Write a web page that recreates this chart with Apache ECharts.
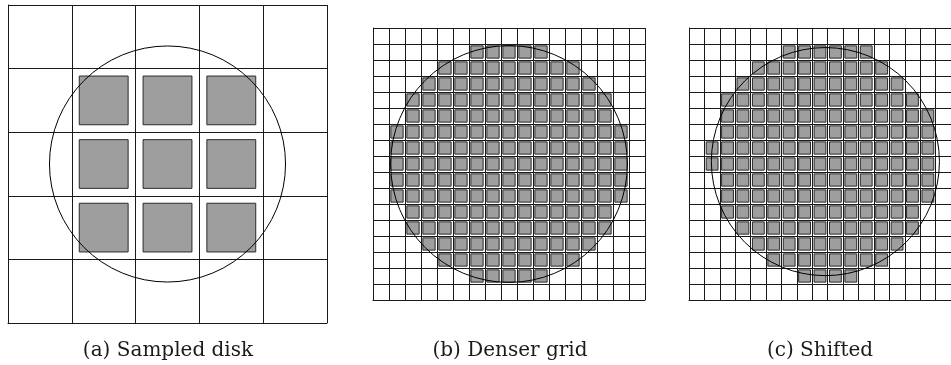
<!DOCTYPE html>
<html>
<head>
<meta charset="utf-8">
<script src="https://cdn.jsdelivr.net/npm/echarts@6/dist/echarts.min.js"></script>
<style>
  html, body { margin: 0; padding: 0; background: #fff; }
  #chart { width: 951px; height: 365px; }
</style>
</head>
<body>
<div id="chart"></div>
<script>
// Grid sizes (cells per side) for each panel
const gridCells = [5, 17, 17];

// Disk for each panel: [centerX, centerY, radius] in cell units
const diskA = [2.5, 2.5, 1.85];
const diskB = [8.5, 8.5, 7.4];
const diskC = [8.85, 8.35, 7.4];

// Filled (sampled) cells per row: [row, firstCol, lastCol]
const spansA = [
  [1, 1, 3], [2, 1, 3], [3, 1, 3]
];
const spansB = [
  [1, 6, 10], [2, 4, 12], [3, 3, 13], [4, 2, 14], [5, 2, 14],
  [6, 1, 15], [7, 1, 15], [8, 1, 15], [9, 1, 15], [10, 1, 15],
  [11, 2, 14], [12, 2, 14], [13, 3, 13], [14, 4, 12], [15, 6, 10]
];
const spansC = [
  [1, 6, 11], [2, 4, 12], [3, 3, 13], [4, 2, 14], [5, 2, 15],
  [6, 2, 15], [7, 1, 15], [8, 1, 15], [9, 2, 15], [10, 2, 15],
  [11, 2, 14], [12, 3, 14], [13, 4, 13], [14, 5, 12], [15, 7, 10]
];

// Panel captions
const captions = ['(a) Sampled disk', '(b) Denser grid', '(c) Shifted'];

const panels = [
  { grid: { left: 8, top: 5, width: 319, height: 318 }, n: gridCells[0], disk: diskA, spans: spansA, capX: 168 },
  { grid: { left: 373, top: 28, width: 272, height: 272 }, n: gridCells[1], disk: diskB, spans: spansB, capX: 510 },
  { grid: { left: 689, top: 28, width: 272, height: 272 }, n: gridCells[2], disk: diskC, spans: spansC, capX: 820 }
];

const LINE = '#1a1a1a';
const INSET = 0.117;

function cellsFromSpans(spans) {
  const out = [];
  spans.forEach(([r, c0, c1]) => {
    for (let c = c0; c <= c1; c++) out.push([c, r]);
  });
  return out;
}

const option = {
  animation: false,
  backgroundColor: '#fff',
  grid: panels.map(p => Object.assign({ containLabel: false }, p.grid)),
  xAxis: panels.map((p, i) => ({
    type: 'value', gridIndex: i, min: 0, max: p.n, interval: 1,
    axisLabel: { show: false }, axisTick: { show: false },
    axisLine: { show: true, onZero: false, lineStyle: { color: LINE, width: 1 } },
    splitLine: { show: true, lineStyle: { color: LINE, width: 1 } }
  })),
  yAxis: panels.map((p, i) => ({
    type: 'value', gridIndex: i, min: 0, max: p.n, interval: 1, inverse: true,
    axisLabel: { show: false }, axisTick: { show: false },
    axisLine: { show: true, onZero: false, lineStyle: { color: LINE, width: 1 } },
    splitLine: { show: true, lineStyle: { color: LINE, width: 1 } }
  })),
  series: [],
  graphic: panels.map((p, i) => ({
    type: 'text', x: p.capX, y: 351,
    style: {
      text: captions[i], textAlign: 'center', textVerticalAlign: 'middle',
      font: '20px "DejaVu Serif", serif', fill: '#1a1a1a'
    }
  }))
};

panels.forEach((p, i) => {
  option.series.push({
    type: 'custom', xAxisIndex: i, yAxisIndex: i,
    data: cellsFromSpans(p.spans),
    renderItem: (params, api) => {
      const c = api.value(0), r = api.value(1);
      const a = api.coord([c + INSET, r + INSET]);
      const b = api.coord([c + 1 - INSET, r + 1 - INSET]);
      return {
        type: 'rect',
        shape: { x: Math.min(a[0], b[0]), y: Math.min(a[1], b[1]), width: Math.abs(b[0] - a[0]), height: Math.abs(b[1] - a[1]) },
        style: { fill: '#9e9e9e', stroke: '#2a2a2a', lineWidth: 1 }
      };
    }
  });
  option.series.push({
    type: 'custom', xAxisIndex: i, yAxisIndex: i,
    data: [p.disk],
    z: 5,
    renderItem: (params, api) => {
      const ctr = api.coord([api.value(0), api.value(1)]);
      const s = api.size([api.value(2), api.value(2)]);
      return {
        type: 'circle',
        shape: { cx: ctr[0], cy: ctr[1], r: Math.abs(s[0]) },
        style: { fill: 'none', stroke: '#000', lineWidth: 1 }
      };
    }
  });
});

const chart = echarts.init(document.getElementById('chart'), null, { renderer: 'canvas' });
chart.setOption(option);
</script>
</body>
</html>
